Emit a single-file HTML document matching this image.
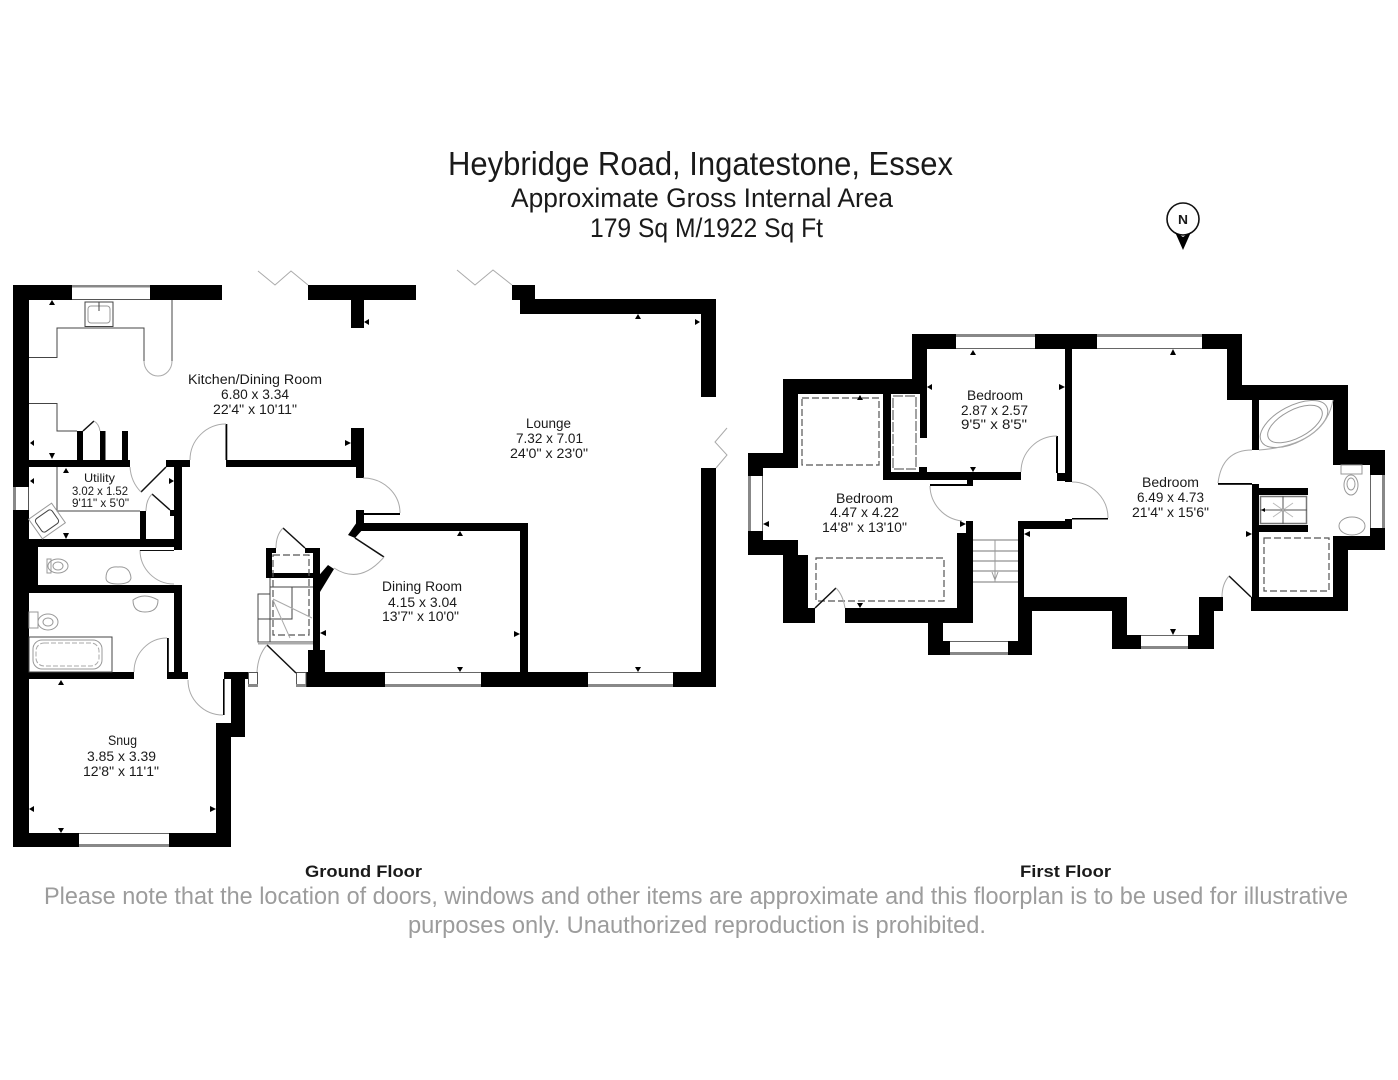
<!DOCTYPE html>
<html><head><meta charset="utf-8"><style>
html,body{margin:0;padding:0;background:#fff}
svg{display:block}
text{font-family:"Liberation Sans",sans-serif;fill:#1a1a1a;text-anchor:start}
.r{font-size:13.5px}
.thin{fill:none;stroke:#444;stroke-width:1}
.arc{fill:none;stroke:#aaa;stroke-width:1}
.leaf{fill:none;stroke:#111;stroke-width:1.5}
.dash{fill:none;stroke:#555;stroke-width:1.2;stroke-dasharray:7 3}
.fix{fill:none;stroke:#999;stroke-width:1}
.win{fill:#888}
</style></head><body>
<svg width="1398" height="1080" viewBox="0 0 1398 1080" xmlns="http://www.w3.org/2000/svg">
<rect width="1398" height="1080" fill="#fff"/>
<!-- title -->
<text x="448" y="175" font-size="33" textLength="505" lengthAdjust="spacingAndGlyphs">Heybridge Road, Ingatestone, Essex</text>
<text x="511" y="207" font-size="27" textLength="382" lengthAdjust="spacingAndGlyphs">Approximate Gross Internal Area</text>
<text x="590" y="237" font-size="27" textLength="233" lengthAdjust="spacingAndGlyphs">179 Sq M/1922 Sq Ft</text>
<!-- north -->
<circle cx="1183" cy="219" r="16" fill="#fff" stroke="#111" stroke-width="1.6"/>
<polygon points="1175,232 1183,237 1191,232 1183,250" fill="#000"/>
<text x="1178" y="224" font-size="13" font-weight="bold" textLength="10" lengthAdjust="spacingAndGlyphs">N</text>

<!-- GROUND FLOOR walls -->
<g fill="#000">
<rect x="13" y="285" width="59" height="15"/><rect x="150" y="285" width="72" height="15"/>
<rect x="308" y="285" width="108" height="15"/><rect x="351" y="300" width="13" height="28"/>
<rect x="13" y="285" width="16" height="202"/><rect x="13" y="510" width="16" height="337"/>
<rect x="13" y="540" width="25" height="45"/>
<rect x="13" y="460" width="117" height="7"/><rect x="166" y="460" width="24" height="7"/>
<rect x="174" y="467" width="8" height="83"/><rect x="13" y="539" width="169" height="8"/>
<rect x="140" y="511" width="6" height="28"/><rect x="170" y="510" width="5" height="6"/>
<rect x="77" y="431" width="6" height="29"/><rect x="100" y="431" width="5.500" height="29"/><rect x="122" y="431" width="6" height="29"/>
<rect x="226" y="460" width="134" height="7"/><rect x="225.500" y="424" width="1.800" height="36"/>
<rect x="351" y="428" width="13" height="32"/><rect x="356" y="460" width="8" height="18"/>
<rect x="13" y="585" width="169" height="8"/><rect x="174" y="585" width="8" height="87"/>
<rect x="167" y="672" width="21" height="7"/><rect x="167" y="638" width="1.800" height="34"/>
<rect x="13" y="672" width="121" height="7"/>
<rect x="13" y="833" width="66" height="14"/><rect x="169" y="833" width="62" height="14"/>
<rect x="216" y="723" width="15" height="124"/><rect x="216" y="723" width="29" height="14"/>
<rect x="231" y="672" width="14" height="65"/><rect x="224" y="672" width="24" height="7"/>
<rect x="223" y="679" width="1.600" height="36"/>
<rect x="306" y="672" width="79" height="15"/><rect x="481" y="672" width="107" height="15"/><rect x="673" y="672" width="43" height="15"/>
<rect x="701" y="468" width="15" height="219"/><rect x="701" y="299" width="15" height="98"/>
<rect x="520" y="299" width="196" height="15"/><rect x="512" y="285" width="23" height="15"/>
<rect x="356" y="523" width="172" height="8"/><rect x="520" y="523" width="8" height="150"/>
<rect x="356" y="510" width="8" height="14"/><rect x="362" y="513" width="38" height="2"/>
<polygon points="357,522 348,535 355,538 364,528"/>
<rect x="313" y="548" width="7" height="103"/><rect x="308" y="650" width="17" height="23"/>
<rect x="266" y="548" width="6" height="30"/><rect x="266" y="548" width="10" height="5"/><rect x="305" y="548" width="15" height="5"/>
<rect x="266" y="573" width="54" height="5"/>
<polygon points="328,565 334,569 320,592 315,580"/>
</g>
<!-- windows ground -->
<g>
<rect x="72" y="285" width="78" height="2.500" class="win"/><rect x="72" y="299" width="78" height="1" fill="#555"/>
<rect x="13" y="487" width="3" height="23" class="win"/><rect x="28" y="487" width="1" height="23" fill="#555"/>
<rect x="79" y="844" width="90" height="3" class="win"/><rect x="79" y="833" width="90" height="1" fill="#666"/>
<rect x="385" y="684" width="96" height="3" class="win"/><rect x="385" y="672" width="96" height="1" fill="#666"/>
<rect x="588" y="684" width="85" height="3" class="win"/><rect x="588" y="672" width="85" height="1" fill="#666"/>
<rect x="248.500" y="672.500" width="9" height="14" fill="#fff" stroke="#555" stroke-width="1"/><rect x="248" y="684" width="10" height="3" class="win"/>
<rect x="296.500" y="672.500" width="9.500" height="14" fill="#fff" stroke="#555" stroke-width="1"/><rect x="296" y="684" width="10" height="3" class="win"/>
</g>
<!-- kitchen fittings -->
<path class="thin" d="M29 357.500H57V328H144V361M172 300V361M29 403.500H57V431H77M57 467V511H140"/>
<path class="arc" d="M144 361A14 15 0 0 0 172 361"/>
<rect class="thin" x="85" y="302" width="28" height="24.500"/>
<rect class="fix" x="88" y="306" width="22" height="17" rx="3"/>
<path class="thin" d="M99 302V311"/>
<!-- bifold doors -->
<path fill="none" stroke="#aaa" d="M258 271L275 285L291 271L308 285M457 270L475 285L493 270L512 285M727 428L715 442L727 455L716 468"/>
<!-- doors ground -->
<path class="leaf" d="M83 431L94 421M141 492L166 467M152 494L170 510M283 528L305 548M267 645L296 673M355 538L384 557"/>
<path class="arc" d="M94 421Q99 424 100 431M130 467Q131 482 141 492M152 494Q146 500 146 511M283 528Q276 535 276 548M267 645Q258 655 257 672M190 460A36 36 0 0 1 226 424M140 550A34 34 0 0 0 174 584M134 672A33 34 0 0 1 167 638M188 680A35 35 0 0 0 223 715M400 513A37 35 0 0 0 363 478M384 557Q360 585 334 568"/>
<path d="M140 550.500H174" stroke="#111" stroke-width="1"/>
<!-- utility / wc / bath fixtures -->
<g transform="rotate(-35 47 521)"><rect class="fix" x="33" y="509" width="28" height="24"/><rect class="thin" x="37" y="513" width="20" height="16" rx="3"/></g>
<rect class="fix" x="47" y="559" width="4" height="14"/><ellipse class="fix" cx="58" cy="566" rx="10" ry="7"/><ellipse class="fix" cx="58" cy="566" rx="5" ry="4"/>
<path class="fix" d="M106 578Q106 566 118 567Q130 566 131 578Q130 584 118 584Q106 584 106 578Z"/>
<path class="fix" d="M133 600Q144 592 158 600Q158 612 145 612Q133 612 133 600Z"/>
<rect class="fix" x="29" y="612" width="9" height="16"/><ellipse class="fix" cx="48" cy="622" rx="10" ry="8"/><ellipse class="fix" cx="48" cy="622" rx="5" ry="4"/>
<rect class="thin" x="29" y="637" width="83" height="35"/>
<rect class="fix" x="33" y="640" width="69" height="29" rx="9"/><rect x="36" y="643" width="63" height="23" rx="8" fill="none" stroke="#aaa" stroke-dasharray="5 2"/>
<!-- stairs -->
<path class="thin" d="M270 578V642M270 587H313M270 594H258V642H313M258 619H292V587"/>
<rect x="258" y="642" width="55" height="2.500" fill="#aaa"/>
<rect class="dash" x="273" y="555" width="36" height="80"/>
<path class="arc" d="M273 599L312 618M273 600L290 638"/>

<!-- FIRST FLOOR walls -->
<g fill="#000">
<rect x="912" y="334" width="44" height="15"/><rect x="1035" y="334" width="62" height="15"/><rect x="1202" y="334" width="40" height="15"/>
<rect x="912" y="334" width="15" height="60"/><rect x="783" y="379" width="144" height="15"/>
<rect x="783" y="379" width="15" height="89"/><rect x="748" y="453" width="50" height="15"/><rect x="748" y="453" width="15" height="23"/>
<rect x="748" y="531" width="15" height="24"/><rect x="748" y="540" width="50" height="15"/>
<rect x="783" y="555" width="25" height="68"/><rect x="783" y="608" width="32" height="15"/>
<rect x="845" y="608" width="128" height="15"/><rect x="957" y="533" width="16" height="90"/><rect x="966" y="521" width="7" height="14"/>
<rect x="928" y="623" width="15" height="32"/><rect x="928" y="641" width="22" height="14"/><rect x="1008" y="641" width="24" height="14"/>
<rect x="1018" y="597" width="14" height="58"/><rect x="1018" y="521" width="6" height="76"/>
<rect x="1018" y="521" width="48" height="8"/><rect x="1065" y="519" width="7" height="10"/>
<rect x="1018" y="597" width="109" height="14"/><rect x="1112" y="597" width="15" height="52"/>
<rect x="1112" y="635" width="29" height="14"/><rect x="1188" y="635" width="26" height="14"/><rect x="1199" y="597" width="15" height="52"/>
<rect x="1199" y="597" width="24" height="14"/>
<rect x="1065" y="349" width="7" height="133"/><rect x="1057" y="473" width="15" height="8"/><rect x="1056" y="436" width="2" height="37"/>
<rect x="883" y="472" width="138" height="8"/><rect x="883" y="394" width="8" height="86"/><rect x="920" y="394" width="7" height="44"/><rect x="919" y="467" width="8" height="5"/>
<rect x="930" y="484" width="37" height="2"/><rect x="967" y="480" width="6" height="6"/>
<rect x="1227" y="385" width="121" height="15"/><rect x="1227" y="334" width="15" height="66"/>
<rect x="1252" y="400" width="7" height="50"/><rect x="1252" y="484" width="7" height="113"/><rect x="1218" y="483" width="34" height="1.800"/>
<rect x="1333" y="400" width="15" height="65"/><rect x="1333" y="450" width="52" height="15"/><rect x="1370" y="465" width="15" height="10"/>
<rect x="1370" y="528" width="15" height="22"/><rect x="1333" y="536" width="52" height="14"/><rect x="1333" y="550" width="15" height="50"/>
<rect x="1251" y="597" width="97" height="14"/>
<rect x="1252" y="488" width="56" height="7"/><rect x="1252" y="525" width="56" height="7"/>
<rect x="1072" y="518" width="36" height="1.500"/>
</g>
<!-- first windows -->
<rect x="956" y="334" width="79" height="3" class="win"/><rect x="956" y="348" width="79" height="1" fill="#666"/>
<rect x="1097" y="334" width="105" height="3" class="win"/><rect x="1097" y="348" width="105" height="1" fill="#666"/>
<rect x="748" y="476" width="3" height="55" class="win"/><rect x="762" y="476" width="1" height="55" fill="#666"/>
<rect x="950" y="652" width="58" height="3" class="win"/><rect x="950" y="641" width="58" height="1" fill="#666"/>
<rect x="1141" y="646" width="47" height="3" class="win"/><rect x="1141" y="635" width="47" height="1" fill="#666"/>
<rect x="1382" y="475" width="3" height="53" class="win"/><rect x="1370" y="475" width="1" height="53" fill="#666"/>
<!-- first fittings -->
<rect class="dash" x="802" y="398" width="77" height="67"/>
<rect class="thin" x="893" y="396" width="23" height="73" stroke-dasharray="10 2"/>
<rect class="dash" x="816" y="558" width="128" height="43"/>
<rect class="dash" x="1264" y="538" width="65" height="53"/>
<path class="leaf" d="M815 608L836 588M1229 576L1251 597"/>
<path class="arc" d="M836 588Q843 595 845 608M1229 576Q1222 584 1222 597M1021 472A36 36 0 0 1 1057 436M930 486A36 36 0 0 0 962 521M1072 482A36 36 0 0 1 1108 518M1252 450Q1222 450 1218 483"/>
<g stroke="#777" stroke-width="1"><path d="M973 540H1018M973 551H1018M973 561H1018M973 571H1018M973 582H1018"/></g>
<path d="M995 540V582M992 572L995 580L998 572" fill="none" stroke="#999"/>
<!-- ensuite -->
<ellipse class="fix" cx="1295" cy="424" rx="30" ry="14" transform="rotate(-28 1295 424)"/>
<ellipse class="fix" cx="1294" cy="424" rx="37" ry="18" transform="rotate(-28 1294 424)"/>
<path class="arc" d="M1333 400Q1325 445 1259 450"/>
<rect class="fix" x="1341" y="465" width="21" height="9"/><ellipse class="fix" cx="1351" cy="485" rx="7" ry="10"/><ellipse class="fix" cx="1351" cy="484" rx="4" ry="6"/>
<ellipse class="fix" cx="1352" cy="526" rx="13" ry="9"/>
<rect x="1260.500" y="496.500" width="46" height="27" fill="#fff" stroke="#777" stroke-width="1.500"/>
<path d="M1283 496V524M1260 510H1307" stroke="#555"/>
<path d="M1273 503L1293 517M1273 517L1293 503" stroke="#bbb"/>

<!-- dimension triangles -->
<g fill="#000">
<polygon points="52,300 49,305 55,305"/><polygon points="30,443 34,440 34,446"/><polygon points="52,459 49,453 55,453"/><polygon points="66,468 63,473 69,473"/><polygon points="30,481 34,478 34,484"/><polygon points="174,481 169,478 169,484"/><polygon points="66,539 63,533 69,533"/><polygon points="364,322 369,319 369,325"/><polygon points="351,443 345,440 345,446"/>
<polygon points="638,314 635,319 641,319"/><polygon points="700,322 695,319 695,325"/><polygon points="460,531 457,536 463,536"/><polygon points="520,634 514,631 514,637"/><polygon points="460,672 457,667 463,667"/><polygon points="638,672 635,667 641,667"/>
<polygon points="61,680 58,685 64,685"/><polygon points="29,809 34,806 34,812"/><polygon points="216,809 210,806 210,812"/><polygon points="61,833 58,828 64,828"/><polygon points="320,633 326,630 326,636"/>
<polygon points="973,350 970,355 976,355"/><polygon points="927,387 932,384 932,390"/><polygon points="1065,387 1059,384 1059,390"/><polygon points="973,472 970,467 976,467"/><polygon points="860,395 857,400 863,400"/><polygon points="763,524 769,521 769,527"/><polygon points="966,524 960,521 960,527"/><polygon points="860,608 857,603 863,603"/><polygon points="1024,534 1030,531 1030,537"/>
<polygon points="1173,349 1170,355 1176,355"/><polygon points="1173,635 1170,629 1176,629"/><polygon points="1252,534 1246,531 1246,537"/><polygon points="1261,510 1265,508 1265,512"/>
</g>

<!-- room labels -->
<g class="r">
<text class="r" x="188" y="384" textLength="134" lengthAdjust="spacingAndGlyphs">Kitchen/Dining Room</text>
<text class="r" x="221" y="399" textLength="68" lengthAdjust="spacingAndGlyphs">6.80 x 3.34</text>
<text class="r" x="213" y="414" textLength="84" lengthAdjust="spacingAndGlyphs">22'4" x 10'11"</text>
<text x="84" y="482" style="font-size:12px" textLength="31" lengthAdjust="spacingAndGlyphs">Utility</text>
<text x="72" y="495" style="font-size:12px" textLength="56" lengthAdjust="spacingAndGlyphs">3.02 x 1.52</text>
<text x="72" y="507" style="font-size:12px" textLength="57" lengthAdjust="spacingAndGlyphs">9'11" x 5'0"</text>
<text class="r" x="108" y="745" textLength="29" lengthAdjust="spacingAndGlyphs">Snug</text>
<text class="r" x="87" y="761" textLength="69" lengthAdjust="spacingAndGlyphs">3.85 x 3.39</text>
<text class="r" x="83" y="776" textLength="76" lengthAdjust="spacingAndGlyphs">12'8" x 11'1"</text>
<text class="r" x="526" y="428" textLength="45" lengthAdjust="spacingAndGlyphs">Lounge</text>
<text class="r" x="516" y="443" textLength="67" lengthAdjust="spacingAndGlyphs">7.32 x 7.01</text>
<text class="r" x="510" y="458" textLength="78" lengthAdjust="spacingAndGlyphs">24'0" x 23'0"</text>
<text class="r" x="382" y="591" textLength="80" lengthAdjust="spacingAndGlyphs">Dining Room</text>
<text class="r" x="388" y="607" textLength="69" lengthAdjust="spacingAndGlyphs">4.15 x 3.04</text>
<text class="r" x="382" y="621" textLength="77" lengthAdjust="spacingAndGlyphs">13'7" x 10'0"</text>
<text class="r" x="967" y="400" textLength="56" lengthAdjust="spacingAndGlyphs">Bedroom</text>
<text class="r" x="961" y="415" textLength="67" lengthAdjust="spacingAndGlyphs">2.87 x 2.57</text>
<text class="r" x="961" y="429" textLength="66" lengthAdjust="spacingAndGlyphs">9'5" x 8'5"</text>
<text class="r" x="836" y="503" textLength="57" lengthAdjust="spacingAndGlyphs">Bedroom</text>
<text class="r" x="830" y="517" textLength="69" lengthAdjust="spacingAndGlyphs">4.47 x 4.22</text>
<text class="r" x="822" y="532" textLength="85" lengthAdjust="spacingAndGlyphs">14'8" x 13'10"</text>
<text class="r" x="1142" y="487" textLength="57" lengthAdjust="spacingAndGlyphs">Bedroom</text>
<text class="r" x="1137" y="502" textLength="67" lengthAdjust="spacingAndGlyphs">6.49 x 4.73</text>
<text class="r" x="1132" y="517" textLength="77" lengthAdjust="spacingAndGlyphs">21'4" x 15'6"</text>
</g>
<text x="305" y="877" font-size="17" font-weight="bold" textLength="117" lengthAdjust="spacingAndGlyphs">Ground Floor</text>
<text x="1020" y="877" font-size="17" font-weight="bold" textLength="91" lengthAdjust="spacingAndGlyphs">First Floor</text>
<text x="44" y="904" font-size="24" style="fill:#9c9c9c" textLength="1304" lengthAdjust="spacingAndGlyphs">Please note that the location of doors, windows and other items are approximate and this floorplan is to be used for illustrative</text>
<text x="408" y="933" font-size="24" style="fill:#9c9c9c" textLength="578" lengthAdjust="spacingAndGlyphs">purposes only. Unauthorized reproduction is prohibited.</text>
</svg>
</body></html>
